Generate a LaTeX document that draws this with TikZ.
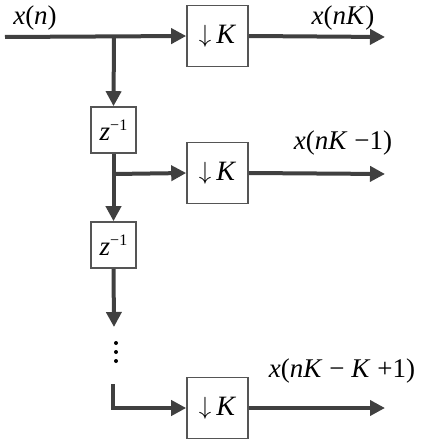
\documentclass[tikz,border=0pt]{standalone}
\usepackage{fontspec}
\setmainfont{Liberation Serif}
\usetikzlibrary{arrows.meta}
\definecolor{wire}{HTML}{404040}
\definecolor{edge}{HTML}{555555}
\tikzset{
  wireline/.style={draw=wire, line width=4pt, -{Triangle[length=15pt,width=15pt]}},
  dsbox/.style={draw=edge, line width=1.6pt, minimum width=61pt, minimum height=61pt, inner sep=0pt, font=\fontsize{28}{32}\selectfont},
  zbox/.style={draw=edge, line width=1.6pt, minimum width=45pt, minimum height=46pt, inner sep=0pt, font=\fontsize{27}{30}\selectfont},
  lbl/.style={font=\fontsize{27}{31}\selectfont, inner sep=0pt}
}
\newcommand{\dsK}{\raisebox{1pt}{$\downarrow$}\hspace{5pt}\textit{K}}
\newcommand{\zinv}{\textit{z}\raisebox{10pt}{\fontsize{16}{18}\selectfont −1}}
\begin{document}
\begin{tikzpicture}[x=1pt, y=-1pt]
\useasboundingbox (0,0) rectangle (423,444);
\node[dsbox] (d1) at (217.5,36) {\dsK};
\node[zbox] (z1) at (113.5,130) {\zinv};
\node[dsbox] (d2) at (217.5,173) {\dsK};
\node[zbox] (z2) at (113.5,245) {\zinv};
\node[dsbox] (d3) at (217.5,408) {\dsK};
\coordinate (in) at (5,37);
\coordinate (b1) at (114,37);
\coordinate (b2) at (114,174);
\coordinate (tip) at (114,327);
\coordinate (bs) at (113,384);
\coordinate (bc) at (113,408);
\coordinate (o1) at (385,37);
\coordinate (o2) at (385,174);
\coordinate (o3) at (385,408);
\draw[wireline] (in) -- (d1.west);
\draw[wireline] (b1) -- (z1.north);
\draw[wireline] (z1.south) -- (z2.north);
\draw[wireline] (b2) -- (d2.west);
\draw[wireline] (z2.south) -- (tip);
\draw[wireline] (bs) -- (bc) -- (d3.west);
\draw[wireline] (d1.east) -- (o1);
\draw[wireline] (d2.east) -- (o2);
\draw[wireline] (d3.east) -- (o3);
\foreach \yy in {343,352,361} \fill[black] (116,\yy) circle (2pt);
\node[lbl] (l0) at (35,18) {\textit{x}(\textit{n})};
\node[lbl] (l1) at (343,18) {\textit{x}(\textit{nK})};
\node[lbl] (l2) at (343,143) {\textit{x}(\textit{nK} −1)};
\node[lbl] (l3) at (342,371) {\textit{x}(\textit{nK} − \textit{K} +1)};
\end{tikzpicture}
\end{document}
